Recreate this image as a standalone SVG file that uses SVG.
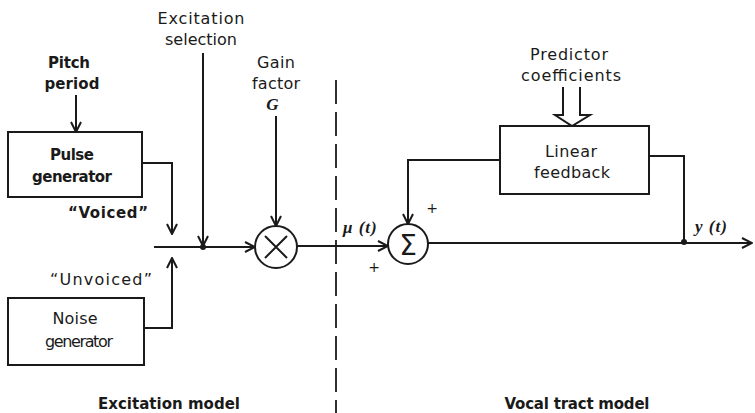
<svg xmlns="http://www.w3.org/2000/svg" width="755" height="413" viewBox="0 0 755 413">
<defs>
<style>
.t{font-family:"DejaVu Sans","Liberation Sans",sans-serif;font-size:16px;fill:#1a1a1a;text-anchor:middle}
.b{font-weight:bold;font-size:15px}
.m{font-family:"Liberation Serif","DejaVu Serif",serif;font-style:italic;font-weight:bold;font-size:17px;fill:#1a1a1a;letter-spacing:1px}
.p{font-family:"DejaVu Sans",sans-serif;font-size:14px;fill:#1a1a1a;text-anchor:middle}
.box{fill:#fff;stroke:#1a1a1a;stroke-width:2}
.ln{fill:none;stroke:#1a1a1a;stroke-width:2}
.ar{fill:none;stroke:#1a1a1a;stroke-width:2;marker-end:url(#arr)}
</style>
<marker id="arr" viewBox="0 0 12 12" refX="11" refY="6" markerWidth="12" markerHeight="12" markerUnits="userSpaceOnUse" orient="auto">
<path d="M1,1 L11,6 L1,11" fill="none" stroke="#1a1a1a" stroke-width="2"/>
</marker>
</defs>
<rect width="755" height="413" fill="#fff"/>

<g id="connectors">
<path class="ar" d="M76,95 V132"/>
<path class="ar" d="M142,163 H172 V234"/>
<path class="ar" d="M144,328 H172 V258"/>
<path class="ar" d="M203,53 V246"/>
<path class="ar" d="M154,247 H255"/>
<path class="ar" d="M276,116 V226"/>
<path class="ar" d="M297,246 H388"/>
<path class="ar" d="M500,160 H408 V224"/>
<path class="ln" d="M649,156 H684 V242"/>
<path class="ar" d="M428,243 H752"/>
<path class="ln" d="M563,87 V115 H555 L572,126 L590,115 H580 V87" fill="#fff"/>
<circle cx="203" cy="247" r="3" fill="#1a1a1a"/>
<circle cx="684" cy="242" r="3" fill="#1a1a1a"/>
<line x1="336" y1="80" x2="336" y2="413" stroke="#1a1a1a" stroke-width="1.8" stroke-dasharray="24 8"/>
</g>

<g id="pulse-generator">
<rect class="box" x="8" y="132" width="134" height="65"/>
<text class="t b" x="72" y="160" textLength="44" lengthAdjust="spacing">Pulse</text>
<text class="t b" x="72" y="182" textLength="80" lengthAdjust="spacing">generator</text>
</g>

<g id="noise-generator">
<rect class="box" x="8" y="298" width="136" height="67"/>
<text class="t" x="75" y="324" textLength="45" lengthAdjust="spacing">Noise</text>
<text class="t" x="79" y="347" textLength="68" lengthAdjust="spacing">generator</text>
</g>

<g id="multiplier">
<circle class="box" cx="276" cy="247" r="21"/>
<path class="ln" d="M265,236 L287,258 M287,236 L265,258"/>
</g>

<g id="summer">
<circle class="box" cx="408" cy="244" r="20"/>
<text x="408" y="255" font-family="DejaVu Sans, sans-serif" font-size="28" text-anchor="middle" fill="#1a1a1a">Σ</text>
</g>

<g id="linear-feedback">
<rect class="box" x="500" y="126" width="149" height="68"/>
<text class="t" x="571" y="157" textLength="52" lengthAdjust="spacing">Linear</text>
<text class="t" x="572" y="178" textLength="76" lengthAdjust="spacing">feedback</text>
</g>

<g id="labels">
<text class="t" x="201" y="24" textLength="87" lengthAdjust="spacing">Excitation</text>
<text class="t" x="201" y="45" textLength="72" lengthAdjust="spacing">selection</text>
<text class="t b" x="69" y="68" textLength="42" lengthAdjust="spacing">Pitch</text>
<text class="t b" x="72" y="89" textLength="55" lengthAdjust="spacing">period</text>
<text class="t" x="276" y="68" textLength="38" lengthAdjust="spacing">Gain</text>
<text class="t" x="276" y="89" textLength="48" lengthAdjust="spacing">factor</text>
<text class="m" x="273" y="110" text-anchor="middle" font-size="16">G</text>
<text class="t b" x="108" y="218" textLength="80" lengthAdjust="spacing">“Voiced”</text>
<text class="t" x="101" y="285" textLength="102" lengthAdjust="spacing">“Unvoiced”</text>
<text class="t" x="569" y="60" textLength="78" lengthAdjust="spacing">Predictor</text>
<text class="t" x="571" y="81" textLength="100" lengthAdjust="spacing">coefficients</text>
<text class="m" x="343" y="233">μ (t)</text>
<text class="m" x="695" y="232">y (t)</text>
<text class="p" x="432" y="213">+</text>
<text class="p" x="374" y="272">+</text>
<text class="t b" x="169" y="409" textLength="142" lengthAdjust="spacing">Excitation model</text>
<text class="t b" x="577" y="409" textLength="145" lengthAdjust="spacing">Vocal tract model</text>
</g>
</svg>
